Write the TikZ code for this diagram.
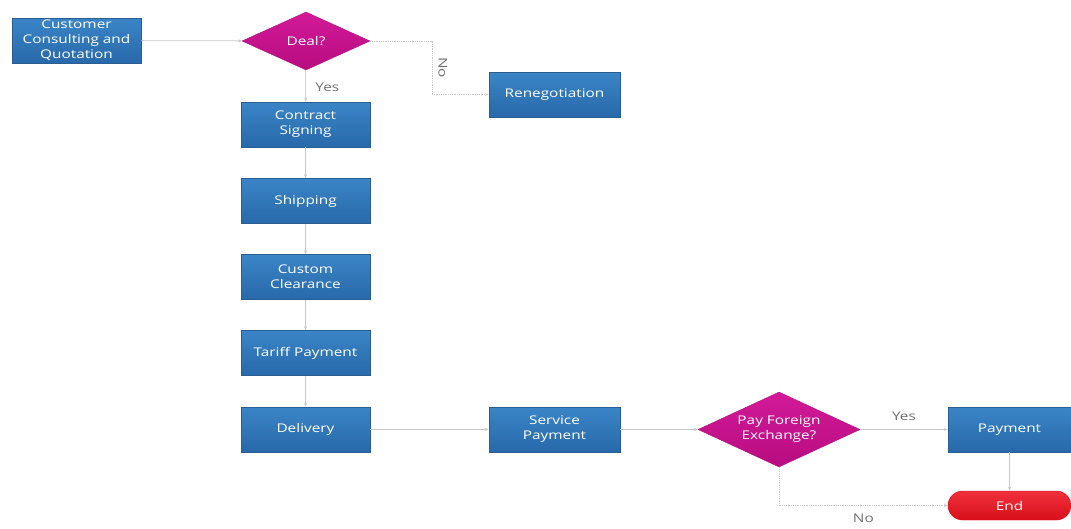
\documentclass[tikz,border=0pt]{standalone}
\usepackage{fontspec}
\setmainfont{Open Sans}[FakeStretch=1.28]
\usetikzlibrary{shapes.geometric,shapes.misc,arrows.meta}
\definecolor{boxtop}{HTML}{3A85C6}
\definecolor{boxbot}{HTML}{2869AA}
\definecolor{boxedge}{HTML}{2A5E92}
\definecolor{magtop}{HTML}{D21A98}
\definecolor{magbot}{HTML}{B80C80}
\definecolor{endtop}{HTML}{F0303A}
\definecolor{endbot}{HTML}{D8101C}
\definecolor{linec}{HTML}{C8C8C8}
\definecolor{labc}{HTML}{707070}
\tikzset{
  x=1pt, y=1pt,
  txt/.style={font=\fontsize{12}{15}\selectfont, text=white, align=center},
  procbox/.style={txt, draw=boxedge, line width=0.6pt, top color=boxtop, bottom color=boxbot,
    minimum width=129pt, minimum height=45pt, inner sep=0pt},
  decis/.style={txt, diamond, draw=magbot, line width=0.4pt, top color=magtop, bottom color=magbot,
    inner sep=0pt},
  endbox/.style={txt, rounded rectangle, draw=endbot, top color=endtop, bottom color=endbot,
    minimum width=123pt, minimum height=29pt, inner sep=0pt},
  conn/.style={draw=linec, line width=0.8pt, -{Stealth[length=4pt,width=3pt]}},
  dconn/.style={conn, densely dotted},
  lab/.style={font=\fontsize{12}{14}\selectfont, text=labc},
}
\begin{document}
\begin{tikzpicture}
\useasboundingbox (0,0) rectangle (1071,-528);
\node[procbox] (cust) at (76.5,-40.5) {Customer\\Consulting and\\Quotation};
\node[decis, minimum width=128pt, minimum height=58pt, aspect=2.2] (deal) at (306,-41) {Deal?};
\node[procbox, minimum width=131pt] (reneg) at (554.5,-94.5) {Renegotiation};
\node[procbox] (contract) at (305.5,-124.5) {Contract\\Signing};
\node[procbox] (ship) at (305.5,-201) {Shipping};
\node[procbox] (custom) at (305.5,-277) {Custom\\Clearance};
\node[procbox] (tariff) at (305.5,-353) {Tariff Payment};
\node[procbox] (deliv) at (305.5,-429.5) {Delivery};
\node[procbox, minimum width=131pt] (serv) at (554.5,-429.5) {Service\\Payment};
\node[decis, minimum width=162pt, minimum height=75pt, aspect=2.16] (pfe) at (779,-429.5) {Pay Foreign\\Exchange?};
\node[procbox, minimum width=123pt] (pay) at (1009.5,-429.5) {Payment};
\node[endbox] (end) at (1009.5,-505.5) {End};
\coordinate (nobend) at (432,-41);
\draw[conn] (cust) -- (deal);
\draw[conn] (deal) -- node[lab, right=6pt, pos=0.55] {Yes} (contract);
\draw[dconn] (deal.east) -- (nobend) |- node[lab, rotate=-90, pos=0.25, anchor=south, inner sep=6pt] {No} (reneg.west);
\draw[conn] (contract) -- (ship);
\draw[conn] (ship) -- (custom);
\draw[conn] (custom) -- (tariff);
\draw[conn] (tariff) -- (deliv);
\draw[conn] (deliv) -- (serv);
\draw[conn] (serv) -- (pfe);
\draw[conn] (pfe) -- node[lab, above=5pt] {Yes} (pay);
\draw[conn] (pay) -- (end);
\draw[dconn] (pfe.south) |- node[lab, pos=0.75, below=5pt] {No} (end.west);
\end{tikzpicture}
\end{document}
